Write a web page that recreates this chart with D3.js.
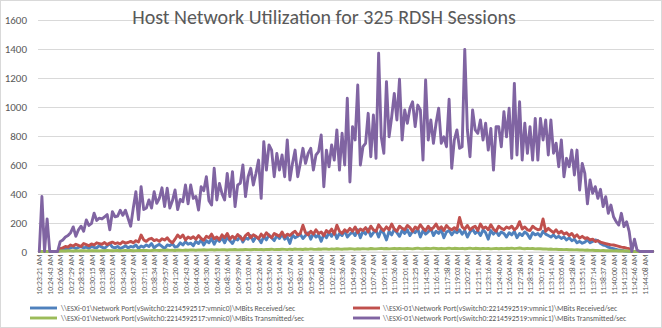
<!DOCTYPE html>
<html>
<head>
<meta charset="utf-8">
<script src="https://cdn.jsdelivr.net/npm/d3@7"></script>
<style>
  html, body { margin: 0; padding: 0; background: #fff; }
  svg { display: block; }
  text { font-family: Carlito, Lato, "Open Sans", sans-serif; fill: #595959; }
</style>
</head>
<body>
<svg id="chart" width="662" height="328"></svg>
<script>
const title = "Host Network Utilization for 325 RDSH Sessions";

const timeLabels = ["10:23:21 AM","10:24:43 AM","10:26:06 AM","10:27:29 AM","10:28:52 AM","10:30:15 AM","10:31:38 AM","10:33:01 AM","10:34:24 AM","10:35:47 AM","10:37:11 AM","10:38:34 AM","10:39:57 AM","10:41:20 AM","10:42:43 AM","10:44:06 AM","10:45:30 AM","10:46:53 AM","10:48:16 AM","10:49:39 AM","10:51:03 AM","10:52:26 AM","10:53:50 AM","10:55:14 AM","10:56:37 AM","10:58:01 AM","10:59:25 AM","11:00:48 AM","11:02:12 AM","11:03:36 AM","11:04:59 AM","11:06:23 AM","11:07:47 AM","11:09:11 AM","11:10:36 AM","11:12:01 AM","11:13:25 AM","11:14:50 AM","11:16:14 AM","11:17:38 AM","11:19:03 AM","11:20:27 AM","11:21:51 AM","11:23:16 AM","11:24:40 AM","11:26:04 AM","11:27:28 AM","11:28:52 AM","11:30:17 AM","11:31:41 AM","11:33:05 AM","11:34:28 AM","11:35:51 AM","11:37:14 AM","11:38:37 AM","11:40:00 AM","11:41:23 AM","11:42:46 AM","11:44:08 AM"];
const samplesPerLabel = 4;

const yTicks = [0, 200, 400, 600, 800, 1000, 1200, 1400, 1600];

const seriesNames = [
  "\\\\ESXi-01\\Network Port(vSwitch0:2214592517:vmnic0)\\MBits Received/sec",
  "\\\\ESXi-01\\Network Port(vSwitch0:2214592519:vmnic1)\\MBits Received/sec",
  "\\\\ESXi-01\\Network Port(vSwitch0:2214592517:vmnic0)\\MBits Transmitted/sec",
  "\\\\ESXi-01\\Network Port(vSwitch0:2214592519:vmnic1)\\MBits Transmitted/sec"
];
const seriesColors = ["#4F81BD", "#C0504D", "#9BBB59", "#8064A2"];

// vmnic0 received (blue)
const vmnic0Received = [
  0,0,0,0,0,0,0,0,10,15,22,18,25,30,20,28,33,25,30,22,
  35,28,25,40,30,22,38,55,30,25,35,20,28,40,25,35,30,45,22,38,
  30,45,35,55,25,40,50,35,20,45,40,55,30,35,60,45,68,50,58,40,
  70,55,80,45,75,60,90,50,85,70,95,60,100,75,55,90,80,105,65,95,
  85,110,70,100,90,60,105,80,115,95,75,110,90,120,85,100,56,115,95,105,
  120,90,110,130,85,125,100,115,70,120,95,130,105,140,90,125,110,145,100,120,
  135,110,150,95,140,120,155,105,130,145,100,150,125,80,140,115,155,130,105,145,
  125,150,110,140,130,155,100,145,120,135,160,110,140,125,150,95,135,145,115,140,
  130,150,120,145,100,135,155,125,140,110,150,130,85,145,120,140,110,135,125,100,
  130,115,140,95,125,110,135,120,90,130,115,125,105,140,120,110,100,115,95,105,
  90,100,80,95,75,85,60,70,57,65,80,60,70,80,75,55,45,40,30,23,
  20,15,10,8,5,3,2,0,0,0,0,0,0,0,0,0
];

// vmnic1 received (red)
const vmnic1Received = [
  0,0,0,0,0,0,0,0,20,25,35,30,45,38,50,42,35,55,48,40,
  52,45,60,55,50,62,48,58,65,55,60,52,68,58,62,70,60,75,65,114,
  80,70,85,91,75,82,70,88,79,95,72,60,85,114,95,114,80,100,90,102,
  85,110,90,78,105,95,120,88,100,82,115,95,125,85,105,90,118,100,80,110,
  126,95,115,105,88,120,100,130,110,95,125,115,105,135,100,120,110,128,140,115,
  125,182,130,115,140,120,150,125,135,110,145,130,155,120,182,140,125,150,135,160,
  140,170,130,155,145,165,135,175,150,140,185,160,145,170,150,190,155,140,175,160,
  150,180,165,140,170,155,185,160,145,175,150,165,190,155,170,145,180,160,150,165,
  150,235,170,155,180,150,165,175,145,190,160,170,150,185,155,140,175,160,150,170,
  160,175,150,165,206,155,170,150,145,175,160,150,155,225,140,160,145,130,150,126,
  140,120,130,110,125,100,115,92,105,90,95,80,85,69,75,65,60,55,50,46,
  45,40,35,30,28,23,20,0,0,0,0,0,0,0,0,0
];

// vmnic0 transmitted (green)
const vmnic0Transmitted = [
  0,0,0,0,0,0,0,0,3,4,3,5,4,3,5,4,5,6,4,5,
  5,6,5,4,6,5,7,6,5,6,7,5,6,8,6,7,5,6,8,7,
  7,8,6,7,9,8,7,9,8,10,8,9,7,10,9,8,10,9,11,10,
  9,11,10,12,10,11,13,10,12,11,13,12,10,13,12,14,11,13,12,14,
  13,12,14,15,13,14,12,15,14,16,13,15,14,16,15,13,16,14,17,15,
  16,14,17,15,18,16,15,17,16,18,17,15,18,16,19,17,16,18,17,19,
  18,16,19,17,20,18,17,21,19,18,20,22,19,21,18,20,22,19,21,20,
  19,22,20,18,21,23,20,19,22,21,20,23,21,19,22,20,21,23,20,22,
  21,20,22,19,21,23,20,22,21,19,22,20,21,18,20,22,19,21,20,22,
  21,23,20,22,24,21,19,22,20,21,18,20,19,17,18,16,17,15,16,14,
  15,13,14,12,13,11,12,10,11,9,10,8,9,7,8,6,7,5,6,5,
  4,5,3,4,3,3,2,0,0,0,0,0,0,0,0,0
];

// vmnic1 transmitted (purple)
const vmnic1Transmitted = [
  0,380,0,225,0,0,0,0,68,80,100,110,130,170,105,150,175,140,218,180,
  195,265,215,230,225,240,255,150,275,240,245,285,250,285,230,175,300,413,220,448,
  290,300,356,300,413,333,368,440,310,437,300,350,425,290,360,344,460,330,460,367,
  380,287,448,420,517,350,321,575,356,471,400,356,540,379,552,310,460,471,598,379,
  517,575,460,540,632,367,759,563,736,701,517,678,563,667,517,771,494,609,701,517,
  609,713,609,678,713,563,667,690,805,448,700,586,736,632,840,563,817,598,1059,480,
  863,771,1151,598,724,748,955,655,943,644,1370,793,679,1174,793,930,1093,909,1190,771,
  978,886,990,1035,863,1012,978,632,1185,771,909,748,886,990,748,793,724,1052,575,771,
  840,713,724,1397,840,655,978,840,817,909,771,886,701,851,563,863,863,724,967,793,
  990,644,1162,667,1035,632,886,679,863,632,920,632,920,771,909,667,909,679,748,586,
  771,517,644,586,701,529,701,425,609,540,330,494,402,448,367,430,310,379,264,321,
  240,206,183,264,172,206,137,0,85,10,0,0,0,0,0,0
];

const seriesValues = [vmnic0Received, vmnic1Received, vmnic0Transmitted, vmnic1Transmitted];

// ---------- drawing ----------
const W = 662, H = 328;
const plot = { left: 38, right: 654, top: 20, bottom: 251.5 };
const FONT = "Carlito, Lato, 'Open Sans', sans-serif";
const svg = d3.select("#chart");

svg.append("rect").attr("x", 0.5).attr("y", 0.5).attr("width", W - 1).attr("height", H - 1)
  .attr("fill", "#fff").attr("stroke", "#d9d9d9");

const n = vmnic1Transmitted.length;
const x = d3.scalePoint().domain(d3.range(n)).range([plot.left, plot.right]).padding(0.5);
const y = d3.scaleLinear().domain([0, 1600]).range([plot.bottom, plot.top]);

// y axis + gridlines
const yAxis = svg.append("g").attr("transform", `translate(${plot.left},0)`)
  .call(d3.axisLeft(y).tickValues(yTicks).tickFormat(d3.format("d"))
    .tickSize(-(plot.right - plot.left)).tickPadding(11));
yAxis.select(".domain").remove();
yAxis.selectAll(".tick line").attr("stroke", "#d9d9d9").attr("shape-rendering", "crispEdges");
yAxis.selectAll(".tick text").attr("font-size", 11).attr("fill", "#595959")
  .style("font-family", FONT);

// x axis labels
const labelIdx = timeLabels.map((_, k) => k * samplesPerLabel);
const xAxis = svg.append("g").attr("transform", `translate(0,${plot.bottom})`)
  .call(d3.axisBottom(x).tickValues(labelIdx).tickSize(0)
    .tickFormat(i => timeLabels[i / samplesPerLabel]));
xAxis.select(".domain").attr("stroke", "#d9d9d9").attr("d", `M${plot.left},0.5H${plot.right}`);
xAxis.selectAll(".tick text")
  .attr("font-size", 7.7).attr("fill", "#595959")
  .style("font-family", FONT)
  .attr("text-anchor", "end")
  .attr("transform", "rotate(-90)")
  .attr("x", -3).attr("y", 0).attr("dy", "0.33em");

// lines
const line = d3.line().x((d, i) => x(i)).y(d => y(d));
seriesValues.forEach((vals, s) => {
  svg.append("path").datum(vals)
    .attr("d", line)
    .attr("fill", "none")
    .attr("stroke", seriesColors[s])
    .attr("stroke-width", 2.9)
    .attr("stroke-linejoin", "round")
    .attr("stroke-linecap", "round");
});

// title
svg.append("text").attr("x", 324).attr("y", 24).attr("text-anchor", "middle")
  .attr("font-size", 20).attr("font-weight", 300).attr("fill", "#595959").text(title);

// legend
const legendPos = [
  { lx: 30, tx: 61, y: 308 },
  { lx: 353, tx: 383, y: 308 },
  { lx: 30, tx: 61, y: 318 },
  { lx: 353, tx: 383, y: 318 }
];
seriesNames.forEach((name, s) => {
  const p = legendPos[s];
  svg.append("line").attr("x1", p.lx).attr("x2", p.lx + 27).attr("y1", p.y).attr("y2", p.y)
    .attr("stroke", seriesColors[s]).attr("stroke-width", 2.9);
  svg.append("text").attr("x", p.tx).attr("y", p.y).attr("dy", "0.35em")
    .attr("font-size", 7.65).attr("fill", "#595959").text(name);
});
</script>
</body>
</html>
